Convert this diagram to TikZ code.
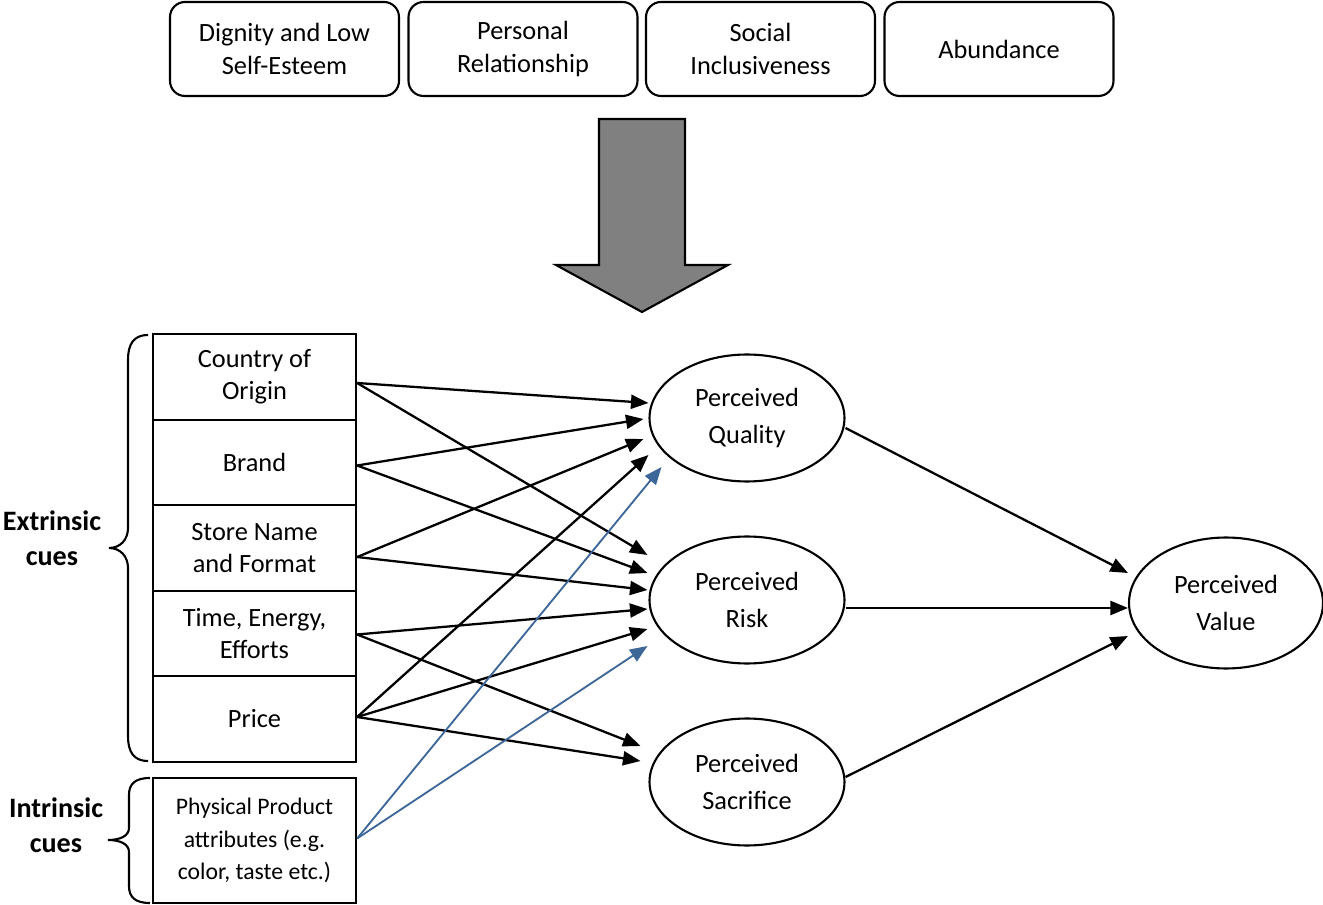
\documentclass[tikz,border=0pt]{standalone}
\usepackage{fontspec}
\setmainfont{Carlito}
\usetikzlibrary{shapes.geometric,arrows.meta,calc}

\definecolor{cueblue}{RGB}{61,102,153}

\tikzset{
  factor/.style={draw, line width=1.2pt, rounded corners=0.3cm,
    minimum width=4.58cm, minimum height=1.88cm, align=center,
    font=\fontsize{15}{18.7}\selectfont},
  cue/.style={draw, line width=1.3pt, minimum width=4.06cm,
    minimum height=1.71cm, inner sep=0pt, align=center,
    font=\fontsize{15}{18.2}\selectfont},
  percept/.style={draw, ellipse, line width=1.2pt, minimum width=3.9cm,
    minimum height=2.54cm, align=center, font=\fontsize{15}{21}\selectfont},
  group/.style={align=center, font=\fontsize{16}{20}\selectfont\bfseries},
  arr/.style={-{Triangle[length=0.35cm,width=0.28cm]}, line width=1.3pt},
  bluearr/.style={arr, draw=cueblue, line width=1.05pt}
}

\begin{document}
\begin{tikzpicture}[x=0.02cm, y=-0.02cm]
  \useasboundingbox (0,0) rectangle (1323,905);

  % influencing factors
  \node[factor] (dig) at (284.5,49) {Dignity and Low\\Self-Esteem};
  \node[factor] (rel) at (523,49) {Personal\\Relationship};
  \node[factor] (inc) at (760.5,49) {Social\\Inclusiveness};
  \node[factor] (abu) at (999,49) {Abundance};

  % big arrow
  \draw[line width=1.2pt, fill=black!50] (599,119) -- (685,119) -- (685,265)
    -- (728,265) -- (642,312) -- (556,265) -- (599,265) -- cycle;

  % extrinsic cues
  \node[cue] (coo) at (254.5,377) {Country of\\Origin};
  \node[cue] (brand) at (254.5,462.5) {Brand};
  \node[cue] (store) at (254.5,548) {Store Name\\and Format};
  \node[cue] (time) at (254.5,633.5) {Time, Energy,\\Efforts};
  \node[cue] (price) at (254.5,719) {Price};

  % intrinsic cue
  \node[cue, minimum height=2.5cm, font=\fontsize{13.5}{18.7}\selectfont]
    (phys) at (254.5,840.5) {Physical Product\\attributes (e.g.\\color, taste etc.)};

  % braces
  \draw[line width=1.2pt] (148,335) .. controls (133,335) and (128,345) .. (128,360)
    -- (128,528) .. controls (128,540) and (120,548) .. (109,548)
    .. controls (120,548) and (128,556) .. (128,568)
    -- (128,736) .. controls (128,751) and (133,761) .. (148,761);
  \draw[line width=1.2pt] (150,778) .. controls (135,778) and (129,784) .. (129,795)
    -- (129,828) .. controls (129,836) and (120,840) .. (108,840)
    .. controls (120,840) and (129,844) .. (129,852)
    -- (129,886) .. controls (129,897) and (135,903) .. (150,903);
  \node[group] (ext) at (52,538) {Extrinsic\\cues};
  \node[group] (intr) at (56,825) {Intrinsic\\cues};

  % perceptions
  \node[percept] (pq) at (747,418) {Perceived\\Quality};
  \node[percept] (pr) at (747,600) {Perceived\\Risk};
  \node[percept] (ps) at (747,782) {Perceived\\Sacrifice};
  \node[percept, minimum width=3.88cm, minimum height=2.62cm] (pv) at (1226,603) {Perceived\\Value};

  % cues to perceptions
  \draw[arr] ($(coo.east)+(0,6)$) -- ($(pq.west)+(0,-15)$);
  \draw[arr] ($(coo.east)+(0,6)$) -- ($(pr.west)+(-1,-45)$);
  \draw[arr] ($(brand.east)+(0,3)$) -- ($(pq.west)+(-5,1)$);
  \draw[arr] ($(brand.east)+(0,3)$) -- ($(pr.west)+(-1,-27)$);
  \draw[arr] ($(store.east)+(0,9)$) -- ($(pq.west)+(-5,21)$);
  \draw[arr] ($(store.east)+(0,9)$) -- ($(pr.west)+(-1,-10)$);
  \draw[arr] ($(time.east)+(0,1)$) -- ($(pr.west)+(-1,9)$);
  \draw[arr] ($(time.east)+(0,1)$) -- ($(ps.west)+(-8,-36)$);
  \draw[arr] ($(price.east)+(0,-2)$) -- ($(pq.west)+(0,37)$);
  \draw[arr] ($(price.east)+(0,-2)$) -- ($(pr.west)+(-1,29)$);
  \draw[arr] ($(price.east)+(0,-2)$) -- ($(ps.west)+(-8,-21)$);
  \draw[bluearr] ($(phys.east)+(0,-2)$) -- ($(pq.west)+(13,49)$);
  \draw[bluearr] ($(phys.east)+(0,-2)$) -- ($(pr.west)+(-1,46)$);

  % perceptions to value
  \draw[arr] ($(pq.east)+(0,10)$) -- ($(pv.west)+(0,-30)$);
  \draw[arr] ($(pr.east)+(0,8)$) -- ($(pv.west)+(0,5)$);
  \draw[arr] ($(ps.east)+(0,-5)$) -- ($(pv.west)+(0,33)$);
\end{tikzpicture}
\end{document}
